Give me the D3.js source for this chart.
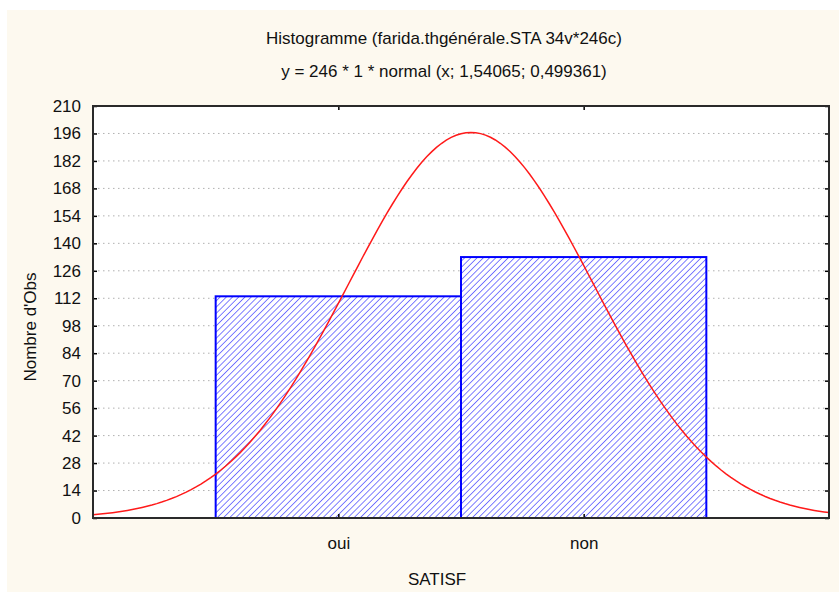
<!DOCTYPE html>
<html><head><meta charset="utf-8">
<script src="https://cdn.jsdelivr.net/npm/d3@7"></script>
<style>
html,body{margin:0;padding:0;background:#fff;}
svg{display:block;font-family:"Liberation Sans",Arial,sans-serif;}
</style></head>
<body>
<svg id="c" width="839" height="592"></svg>
<script>
const categories = ["oui", "non"];
const categoryX = [1, 2];
const counts = [113, 133];
const yTicks = [0,14,28,42,56,70,84,98,112,126,140,154,168,182,196,210];
const normalN = 246, normalMean = 1.54065, normalSd = 0.499361;
const curveX = d3.range(0, 3.0001, 0.02);

const svg = d3.select("#c");
svg.append("rect").attr("x",7).attr("y",10).attr("width",832).attr("height",582).attr("fill","#fdf9ef");

const L=93, R=829, T=106, B=518;
const x = d3.scaleLinear().domain([0,3]).range([L,R]);
const y = d3.scaleLinear().domain([0,210]).range([B,T]);

const defs = svg.append("defs");
const P = 4.4;
const pat = defs.append("pattern").attr("id","hatch").attr("patternUnits","userSpaceOnUse")
  .attr("width",P).attr("height",P).attr("patternTransform","rotate(45)");
pat.append("rect").attr("width",P).attr("height",P).attr("fill","#ffffff");
pat.append("line").attr("x1",0).attr("y1",0).attr("x2",0).attr("y2",P).attr("stroke","#3a3aff").attr("stroke-width",1.3);

svg.append("rect").attr("x",L).attr("y",T).attr("width",R-L).attr("height",B-T).attr("fill","#fff");

// gridlines
svg.append("g").selectAll("line").data(yTicks.slice(1,-1)).join("line")
  .attr("x1",L).attr("x2",R).attr("y1",d=>y(d)).attr("y2",d=>y(d))
  .attr("stroke","#b0b0b0").attr("stroke-width",1).attr("stroke-dasharray","1.5,3.5");

// bars
svg.append("g").selectAll("rect").data(counts).join("rect")
  .attr("x",(d,i)=>x(categoryX[i]-0.5)).attr("y",d=>y(d))
  .attr("width",(d,i)=>x(categoryX[i]+0.5)-x(categoryX[i]-0.5)).attr("height",d=>B-y(d))
  .attr("fill","url(#hatch)").attr("stroke","#0000ff").attr("stroke-width",2);

// normal curve (fitted: y = 246 * 1 * normal(x; 1.54065; 0.499361))
const pdf = v => normalN * Math.exp(-0.5*Math.pow((v-normalMean)/normalSd,2))/(normalSd*Math.sqrt(2*Math.PI));
svg.append("path").datum(curveX)
  .attr("d", d3.line().x(d=>x(d)).y(d=>y(pdf(d))).curve(d3.curveLinear))
  .attr("fill","none").attr("stroke","#ff1a1a").attr("stroke-width",1.5);

// axes
const FS = 17;
const ya = svg.append("g").attr("transform",`translate(${L},0)`)
  .call(d3.axisLeft(y).tickValues(yTicks).tickSizeInner(-4).tickSizeOuter(0).tickPadding(12));
const yr = svg.append("g").attr("transform",`translate(${R},0)`)
  .call(d3.axisRight(y).tickValues(yTicks).tickSizeInner(-4).tickSizeOuter(0).tickFormat(""));
const xa = svg.append("g").attr("transform",`translate(0,${B})`)
  .call(d3.axisBottom(x).tickValues(categoryX).tickFormat((d,i)=>categories[i]).tickSizeInner(-4).tickSizeOuter(0).tickPadding(19));
const xt = svg.append("g").attr("transform",`translate(0,${T})`)
  .call(d3.axisTop(x).tickValues(categoryX).tickSizeInner(-4).tickSizeOuter(0).tickFormat(""));
[ya,yr,xa,xt].forEach(g=>{
  g.select(".domain").remove();
  g.selectAll(".tick line").attr("stroke","#000").attr("stroke-width",1.5);
  g.selectAll("text").attr("font-size",FS).attr("fill","#111").attr("font-family","Liberation Sans, Arial, sans-serif");
});

// frame
svg.append("rect").attr("x",L).attr("y",T).attr("width",R-L).attr("height",B-T)
  .attr("fill","none").attr("stroke","#2a2a2a").attr("stroke-width",2);

// titles
const tf = sel => sel.attr("font-size",FS).attr("fill","#111");
svg.append("text").attr("x",444).attr("y",44).attr("text-anchor","middle").call(tf)
  .text("Histogramme (farida.thgénérale.STA 34v*246c)");
svg.append("text").attr("x",444).attr("y",77).attr("text-anchor","middle").call(tf)
  .text("y = 246 * 1 * normal (x; 1,54065; 0,499361)");
svg.append("text").attr("x",437).attr("y",585).attr("text-anchor","middle").call(tf).text("SATISF");
svg.append("text").attr("transform","translate(36,327) rotate(-90)").attr("text-anchor","middle").call(tf).text("Nombre d'Obs");
</script>
</body></html>
